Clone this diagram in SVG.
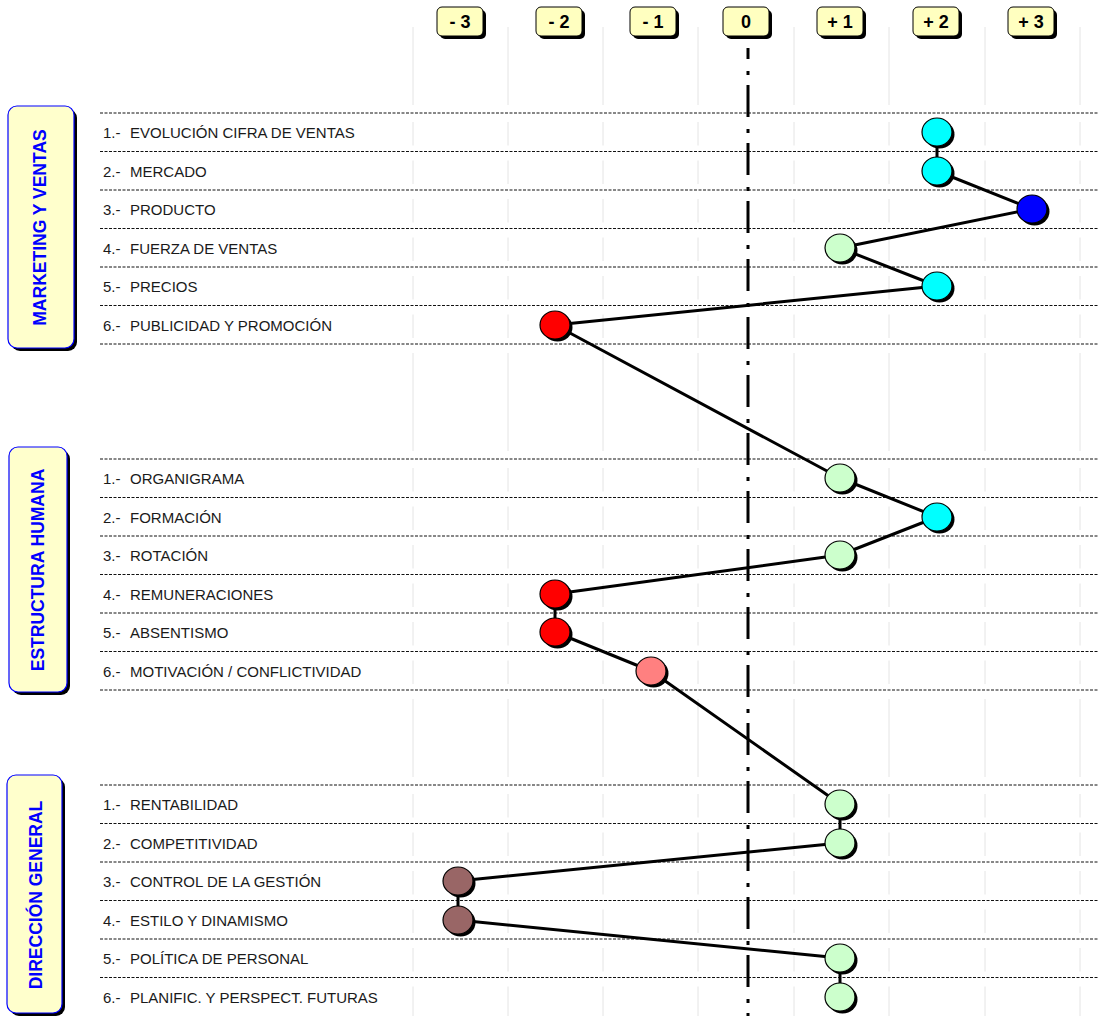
<svg xmlns="http://www.w3.org/2000/svg" xmlns:xlink="http://www.w3.org/1999/xlink" width="1099" height="1016" viewBox="0 0 1099 1016">
<style>
.hbox{fill:#FFFFC0;stroke:#000;stroke-width:1}
.shadow{fill:#000}
.htxt{font-family:"Liberation Sans",Arial,sans-serif;font-weight:bold;font-size:18px;fill:#000;text-anchor:middle}
.cbox{fill:#FFFFCC;stroke:#0000FF;stroke-width:1.2}
.ctxt{font-family:"Liberation Sans",Arial,sans-serif;font-weight:bold;font-size:17.5px;fill:#0000FF;text-anchor:middle}
.rtxt{font-family:"Liberation Sans",Arial,sans-serif;font-size:15px;fill:#1a1a1a}
.dash{stroke:#111;stroke-width:1;stroke-dasharray:3 1.5;fill:none}
.grid{stroke:#e4e4e4;stroke-width:1;fill:none}
.axis{stroke:#000;stroke-width:3;stroke-dasharray:32 12 4 10;stroke-dashoffset:21;fill:none}
.conn{stroke:#000;stroke-width:3;fill:none;stroke-linejoin:round;stroke-linecap:round}
.dot{stroke:#000;stroke-width:1.2}
.cyan{fill:#00FFFF}.blue{fill:#0000FF}.lg{fill:#CCFFCC}.red{fill:#FF0000}.pink{fill:#FF8080}.brown{fill:#996666}
</style>
<defs>
<path id="gl" class="grid" d="M0 27V105M0 122V145.5M0 160.5V184M0 199V222.5M0 237.5V261M0 276V299.5M0 314.5V338M0 353V451M0 468V491.5M0 506.5V530M0 545V568.5M0 583.5V607M0 622V645.5M0 660.5V684M0 699V777M0 794V817.5M0 832.5V856M0 871V894.5M0 909.5V933M0 948V971.5M0 986.5V1016"/>
</defs>
<rect width="1099" height="1016" fill="#fff"/>

<g id="grid">
<use xlink:href="#gl" x="413"/>
<use xlink:href="#gl" x="508"/>
<use xlink:href="#gl" x="603"/>
<use xlink:href="#gl" x="698"/>
<use xlink:href="#gl" x="794"/>
<use xlink:href="#gl" x="889"/>
<use xlink:href="#gl" x="985"/>
<use xlink:href="#gl" x="1080"/>
</g>

<g id="rules">
<path class="dash" d="M100 113H1099M100 151.5H1099M100 190H1099M100 228.5H1099M100 267H1099M100 305.5H1099M100 344H1099"/>
<path class="dash" d="M100 459H1099M100 497.5H1099M100 536H1099M100 574.5H1099M100 613H1099M100 651.5H1099M100 690H1099"/>
<path class="dash" d="M100 785H1099M100 823.5H1099M100 862H1099M100 900.5H1099M100 939H1099M100 977.5H1099"/>
</g>

<g id="axis-zero">
<path class="axis" d="M748 48V1016"/>
</g>

<g id="scale">
<g id="h-m3"><rect class="shadow" x="440" y="10" width="46" height="29" rx="5"/><rect class="hbox" x="437" y="7" width="46" height="29" rx="5"/><text class="htxt" x="460" y="28">- 3</text></g>
<g id="h-m2"><rect class="shadow" x="539" y="10" width="46" height="29" rx="5"/><rect class="hbox" x="536" y="7" width="46" height="29" rx="5"/><text class="htxt" x="559" y="28">- 2</text></g>
<g id="h-m1"><rect class="shadow" x="633" y="10" width="46" height="29" rx="5"/><rect class="hbox" x="630" y="7" width="46" height="29" rx="5"/><text class="htxt" x="653" y="28">- 1</text></g>
<g id="h-0"><rect class="shadow" x="726" y="10" width="46" height="29" rx="5"/><rect class="hbox" x="723" y="7" width="46" height="29" rx="5"/><text class="htxt" x="746" y="28">0</text></g>
<g id="h-p1"><rect class="shadow" x="820" y="10" width="46" height="29" rx="5"/><rect class="hbox" x="817" y="7" width="46" height="29" rx="5"/><text class="htxt" x="840" y="28">+ 1</text></g>
<g id="h-p2"><rect class="shadow" x="916" y="10" width="46" height="29" rx="5"/><rect class="hbox" x="913" y="7" width="46" height="29" rx="5"/><text class="htxt" x="936" y="28">+ 2</text></g>
<g id="h-p3"><rect class="shadow" x="1011" y="10" width="46" height="29" rx="5"/><rect class="hbox" x="1008" y="7" width="46" height="29" rx="5"/><text class="htxt" x="1031" y="28">+ 3</text></g>
</g>

<g id="cat-marketing"><rect class="shadow" x="11" y="109" width="66" height="242" rx="9"/><rect class="cbox" x="8" y="106" width="66" height="242" rx="9"/><text class="ctxt" transform="translate(46,227.5) rotate(-90)">MARKETING Y VENTAS</text></g>
<g id="cat-estructura"><rect class="shadow" x="12" y="450" width="58" height="245" rx="9"/><rect class="cbox" x="9" y="447" width="58" height="245" rx="9"/><text class="ctxt" transform="translate(43.5,570) rotate(-90)">ESTRUCTURA HUMANA</text></g>
<g id="cat-direccion"><rect class="shadow" x="10" y="778" width="55" height="238" rx="9"/><rect class="cbox" x="7" y="775" width="55" height="238" rx="9"/><text class="ctxt" transform="translate(41.5,895) rotate(-90)">DIRECCIÓN GENERAL</text></g>

<g id="labels" class="rtxt">
<g id="lbl-mv1"><text x="103" y="138">1.-</text><text x="130" y="138">EVOLUCIÓN CIFRA DE VENTAS</text></g>
<g id="lbl-mv2"><text x="103" y="176.5">2.-</text><text x="130" y="176.5">MERCADO</text></g>
<g id="lbl-mv3"><text x="103" y="215">3.-</text><text x="130" y="215">PRODUCTO</text></g>
<g id="lbl-mv4"><text x="103" y="253.5">4.-</text><text x="130" y="253.5">FUERZA DE VENTAS</text></g>
<g id="lbl-mv5"><text x="103" y="292">5.-</text><text x="130" y="292">PRECIOS</text></g>
<g id="lbl-mv6"><text x="103" y="330.5">6.-</text><text x="130" y="330.5">PUBLICIDAD Y PROMOCIÓN</text></g>
<g id="lbl-eh1"><text x="103" y="484">1.-</text><text x="130" y="484">ORGANIGRAMA</text></g>
<g id="lbl-eh2"><text x="103" y="522.5">2.-</text><text x="130" y="522.5">FORMACIÓN</text></g>
<g id="lbl-eh3"><text x="103" y="561">3.-</text><text x="130" y="561">ROTACIÓN</text></g>
<g id="lbl-eh4"><text x="103" y="599.5">4.-</text><text x="130" y="599.5">REMUNERACIONES</text></g>
<g id="lbl-eh5"><text x="103" y="638">5.-</text><text x="130" y="638">ABSENTISMO</text></g>
<g id="lbl-eh6"><text x="103" y="676.5">6.-</text><text x="130" y="676.5">MOTIVACIÓN / CONFLICTIVIDAD</text></g>
<g id="lbl-dg1"><text x="103" y="810">1.-</text><text x="130" y="810">RENTABILIDAD</text></g>
<g id="lbl-dg2"><text x="103" y="848.5">2.-</text><text x="130" y="848.5">COMPETITIVIDAD</text></g>
<g id="lbl-dg3"><text x="103" y="887">3.-</text><text x="130" y="887">CONTROL DE LA GESTIÓN</text></g>
<g id="lbl-dg4"><text x="103" y="925.5">4.-</text><text x="130" y="925.5">ESTILO Y DINAMISMO</text></g>
<g id="lbl-dg5"><text x="103" y="964">5.-</text><text x="130" y="964">POLÍTICA DE PERSONAL</text></g>
<g id="lbl-dg6"><text x="103" y="1002.5">6.-</text><text x="130" y="1002.5">PLANIFIC. Y PERSPECT. FUTURAS</text></g>
</g>

<g id="connectors">
<polyline class="conn" points="937,132 937,171 1032,209 840,248 937,286 555,325 840,478 937,517 840,555 555,594 555,632 651,671 840,804 840,843 458,881 458,920 840,958 840,997"/>
</g>

<g id="points">
<g id="p-mv1"><ellipse class="shadow" cx="939.5" cy="134.5" rx="15" ry="14"/><ellipse class="dot cyan" cx="937" cy="132" rx="15" ry="14"/></g>
<g id="p-mv2"><ellipse class="shadow" cx="939.5" cy="173.5" rx="15" ry="14"/><ellipse class="dot cyan" cx="937" cy="171" rx="15" ry="14"/></g>
<g id="p-mv3"><ellipse class="shadow" cx="1034.5" cy="211.5" rx="15" ry="14"/><ellipse class="dot blue" cx="1032" cy="209" rx="15" ry="14"/></g>
<g id="p-mv4"><ellipse class="shadow" cx="842.5" cy="250.5" rx="15" ry="14"/><ellipse class="dot lg" cx="840" cy="248" rx="15" ry="14"/></g>
<g id="p-mv5"><ellipse class="shadow" cx="939.5" cy="288.5" rx="15" ry="14"/><ellipse class="dot cyan" cx="937" cy="286" rx="15" ry="14"/></g>
<g id="p-mv6"><ellipse class="shadow" cx="557.5" cy="327.5" rx="15" ry="14"/><ellipse class="dot red" cx="555" cy="325" rx="15" ry="14"/></g>
<g id="p-eh1"><ellipse class="shadow" cx="842.5" cy="480.5" rx="15" ry="14"/><ellipse class="dot lg" cx="840" cy="478" rx="15" ry="14"/></g>
<g id="p-eh2"><ellipse class="shadow" cx="939.5" cy="519.5" rx="15" ry="14"/><ellipse class="dot cyan" cx="937" cy="517" rx="15" ry="14"/></g>
<g id="p-eh3"><ellipse class="shadow" cx="842.5" cy="557.5" rx="15" ry="14"/><ellipse class="dot lg" cx="840" cy="555" rx="15" ry="14"/></g>
<g id="p-eh4"><ellipse class="shadow" cx="557.5" cy="596.5" rx="15" ry="14"/><ellipse class="dot red" cx="555" cy="594" rx="15" ry="14"/></g>
<g id="p-eh5"><ellipse class="shadow" cx="557.5" cy="634.5" rx="15" ry="14"/><ellipse class="dot red" cx="555" cy="632" rx="15" ry="14"/></g>
<g id="p-eh6"><ellipse class="shadow" cx="653.5" cy="673.5" rx="15" ry="14"/><ellipse class="dot pink" cx="651" cy="671" rx="15" ry="14"/></g>
<g id="p-dg1"><ellipse class="shadow" cx="842.5" cy="806.5" rx="15" ry="14"/><ellipse class="dot lg" cx="840" cy="804" rx="15" ry="14"/></g>
<g id="p-dg2"><ellipse class="shadow" cx="842.5" cy="845.5" rx="15" ry="14"/><ellipse class="dot lg" cx="840" cy="843" rx="15" ry="14"/></g>
<g id="p-dg3"><ellipse class="shadow" cx="460.5" cy="883.5" rx="15" ry="14"/><ellipse class="dot brown" cx="458" cy="881" rx="15" ry="14"/></g>
<g id="p-dg4"><ellipse class="shadow" cx="460.5" cy="922.5" rx="15" ry="14"/><ellipse class="dot brown" cx="458" cy="920" rx="15" ry="14"/></g>
<g id="p-dg5"><ellipse class="shadow" cx="842.5" cy="960.5" rx="15" ry="14"/><ellipse class="dot lg" cx="840" cy="958" rx="15" ry="14"/></g>
<g id="p-dg6"><ellipse class="shadow" cx="842.5" cy="999.5" rx="15" ry="14"/><ellipse class="dot lg" cx="840" cy="997" rx="15" ry="14"/></g>
</g>
</svg>
